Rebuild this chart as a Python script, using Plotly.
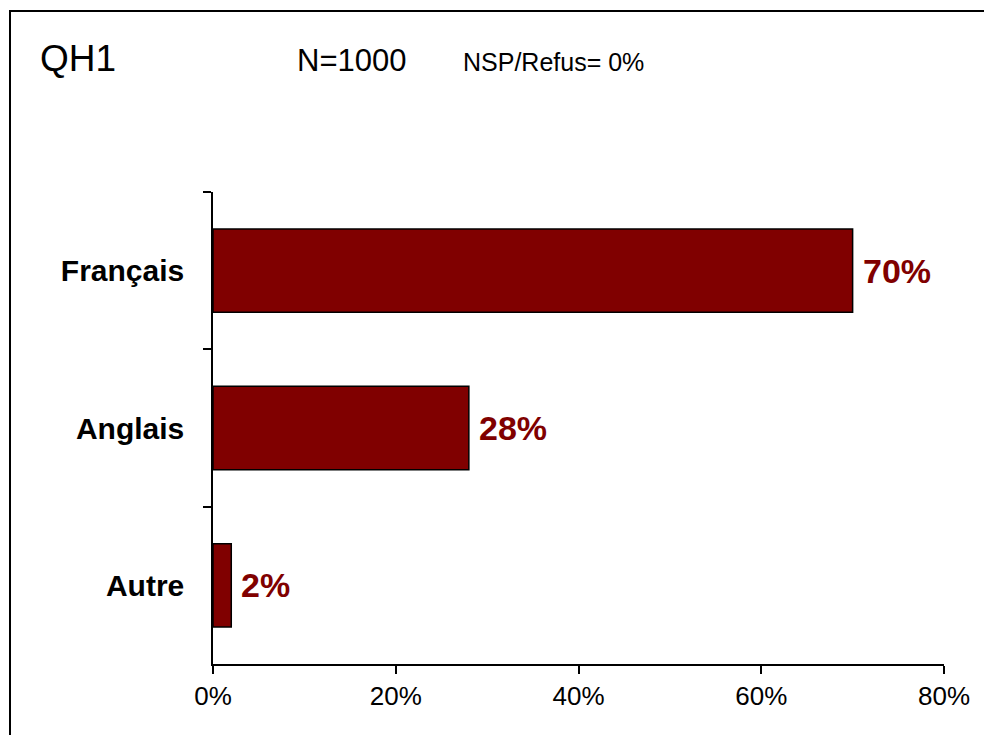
import plotly.graph_objects as go

categories = ["Français", "Anglais", "Autre"]
values = [70, 28, 2]
x_ticks = [0, 20, 40, 60, 80]
x_tick_labels = ["0%", "20%", "40%", "60%", "80%"]
title_left = "QH1"
title_n = "N=1000"
title_nsp = "NSP/Refus= 0%"

OFF = 8  # page body margin
W, H = 984, 727
L, T = 213 - OFF, 192 - OFF
pw, ph = 731, 472
R, B = W - L - pw, H - T - ph

def px(x):
    return (x - OFF - L) / pw

def py(y):
    return (T + ph - (y - OFF)) / ph

FONT = "Arial, Liberation Sans, sans-serif"
BAR = "#800000"

fig = go.Figure()
fig.add_trace(go.Bar(
    x=values, y=categories, orientation="h",
    marker=dict(color=BAR, line=dict(color="black", width=1.5)),
    width=0.53, hoverinfo="skip",
))

annotations = []
for c, v in zip(categories, values):
    annotations.append(dict(
        x=v, y=c, xref="x", yref="y", text=f"<b>{v}%</b>", showarrow=False,
        xanchor="left", yanchor="middle", xshift=8,
        font=dict(family=FONT, size=34, color=BAR),
    ))
annotations += [
    dict(x=px(38), y=py(58), xref="paper", yref="paper", text=title_left, showarrow=False,
         xanchor="left", yanchor="middle", font=dict(family=FONT, size=37, color="black")),
    dict(x=px(295), y=py(61), xref="paper", yref="paper", text=title_n, showarrow=False,
         xanchor="left", yanchor="middle", font=dict(family=FONT, size=31, color="black")),
    dict(x=px(461), y=py(62), xref="paper", yref="paper", text=title_nsp, showarrow=False,
         xanchor="left", yanchor="middle", font=dict(family=FONT, size=25, color="black")),
]

fig.update_layout(
    width=W, height=H,
    margin=dict(l=L, r=R, t=T, b=B, pad=0),
    paper_bgcolor="white", plot_bgcolor="white",
    showlegend=False,
    annotations=annotations,
    shapes=[dict(type="rect", xref="paper", yref="paper",
                 x0=px(10), x1=px(1100), y0=py(900), y1=py(11),
                 line=dict(color="black", width=2), fillcolor="rgba(0,0,0,0)", layer="below")],
    xaxis=dict(range=[0, 80], tickvals=x_ticks, ticktext=x_tick_labels,
               showgrid=False, zeroline=False, showline=True, linecolor="black", linewidth=1.5,
               ticks="outside", ticklen=8, tickwidth=1.5, tickcolor="black",
               tickfont=dict(family=FONT, size=26, color="black"), fixedrange=True),
    yaxis=dict(categoryorder="array", categoryarray=categories, autorange="reversed",
               showgrid=False, zeroline=False, showline=True, linecolor="black", linewidth=1.5,
               ticks="outside", ticklen=8, tickwidth=1.5, tickcolor="black", tickson="boundaries",
               ticklabelstandoff=21,
               tickfont=dict(family=FONT, size=30, color="black", weight="bold"), fixedrange=True),
)

fig.write_html("out.html")
